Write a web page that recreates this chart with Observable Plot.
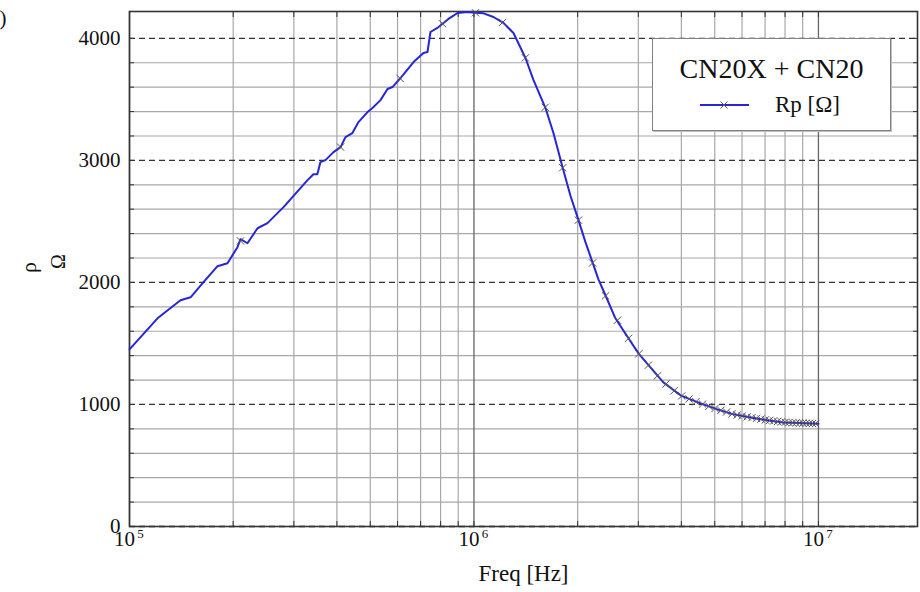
<!DOCTYPE html>
<html><head><meta charset="utf-8">
<script src="https://cdn.jsdelivr.net/npm/d3@7"></script>
<script src="https://cdn.jsdelivr.net/npm/@observablehq/plot@0.6"></script>
<style>
body{margin:0;background:#fff;}
#wrap{position:relative;width:920px;height:592px;overflow:hidden;background:#fff;}
#wrap svg text{font-family:"Liberation Serif","Times New Roman",serif;}
#legend{position:absolute;left:652px;top:38px;width:237px;height:91px;background:#fff;border:1px solid #808080;box-shadow:1px 1px 0 #c0c0c0;font-family:"Liberation Serif",serif;color:#111;}
#lgTitle{position:absolute;left:0;width:237px;top:14px;text-align:center;font-size:28px;line-height:32px;}
#lgItem{position:absolute;left:122px;top:53px;font-size:23px;line-height:26px;}
#lgSym{position:absolute;left:46px;top:58px;}
</style></head>
<body><div id="wrap"></div>
<script>
// Curve: frequency [Hz] and Rp [Ω]
const freq = [1.0e5,1.206e5,1.406e5,1.504e5,1.64e5,1.801e5,1.925e5,2.058e5,2.1e5,2.2e5,2.353e5,2.515e5,2.8e5,3.135e5,3.287e5,3.42e5,3.51e5,3.584e5,3.706e5,3.91e5,4.1e5,4.236e5,4.437e5,4.62e5,4.909e5,5.075e5,5.354e5,5.61e5,5.8e5,6.12e5,6.675e5,7.135e5,7.33e5,7.477e5,7.83e5,8.155e5,8.43e5,8.96e5,9.57e5,1.01e6,1.066e6,1.139e6,1.218e6,1.302e6,1.411e6,1.488e6,1.613e6,1.701e6,1.807e6,1.906e6,2.011e6,2.107e6,2.208e6,2.298e6,2.408e6,2.574e6,2.809e6,3.003e6,3.253e6,3.548e6,3.977e6,4.545e6,5.09e6,5.665e6,6.35e6,7.11e6,7.91e6,8.87e6,1.0e7];
const rp = [1452,1706,1854,1878,2002,2133,2157,2289,2354,2321,2444,2486,2617,2773,2838,2887,2887,2986,3002,3068,3109,3191,3224,3314,3396,3429,3494,3585,3601,3675,3806,3880,3888,4052,4085,4126,4159,4208,4216,4210,4205,4175,4126,4044,3839,3659,3429,3224,2945,2710,2510,2330,2166,2025,1895,1706,1542,1419,1304,1181,1075,1009,960,919,894,870,853,848,842];
// Marker points (x symbols)
const markFreq = [2.1e5,4.1e5,6.1e5,8.1e5,1.01e6,1.21e6,1.41e6,1.61e6,1.81e6,2.01e6,2.21e6,2.41e6,2.61e6,2.81e6,3.01e6,3.21e6,3.41e6,3.61e6,3.81e6,4.01e6,4.21e6,4.41e6,4.61e6,4.81e6,5.01e6,5.21e6,5.41e6,5.61e6,5.81e6,6.01e6,6.21e6,6.41e6,6.61e6,6.81e6,7.01e6,7.21e6,7.41e6,7.61e6,7.81e6,8.01e6,8.21e6,8.41e6,8.61e6,8.81e6,9.01e6,9.21e6,9.41e6,9.61e6,9.81e6];
const markRp = [2340,3109,3672,4120,4210,4130,3840,3435,2940,2510,2160,1890,1690,1542,1415,1322,1235,1168,1112,1070,1045,1022,1003,985,967,952,938,923,914,906,899,892,886,880,873,869,865,861,857,854,852,850,849,848,847,846,845,844,843];
// Ticks
const xMajor = [1e5,1e6,1e7];
const xExp = ["5","6","7"];
const xMinor = [2e5,3e5,4e5,5e5,6e5,7e5,8e5,9e5,2e6,3e6,4e6,5e6,6e6,7e6,8e6,9e6];
const yMajor = [0,1000,2000,3000,4000];
const yMinor = [200,400,600,800,1200,1400,1600,1800,2200,2400,2600,2800,3200,3400,3600,3800];
const xLabel = "Freq [Hz]";
const yLabel1 = "ρ", yLabel2 = "Ω";
const legendTitle = "CN20X + CN20", seriesName = "Rp [Ω]";

const lineData = freq.map((f,i)=>({f, v: rp[i]}));
const markData = markFreq.map((f,i)=>({f, v: markRp[i]}));
const serif = '"Liberation Serif", "Times New Roman", serif';

const chart = Plot.plot({
  width: 920, height: 592,
  marginLeft: 129, marginRight: 3, marginTop: 11, marginBottom: 66,
  x: {type: "log", domain: [1e5, 1.939e7], label: null},
  y: {domain: [0, 4220], label: null},
  style: {fontFamily: serif, fontSize: "21px", color: "#111", background: "white"},
  marks: [
    Plot.gridX(xMinor, {stroke: "#a8a8a8", strokeOpacity: 1, strokeWidth: 1.2}),
    Plot.gridY(yMinor, {stroke: "#a8a8a8", strokeOpacity: 1, strokeWidth: 1.2}),
    Plot.gridX(xMajor, {stroke: "#666", strokeOpacity: 1, strokeWidth: 1.3}),
    Plot.gridY(yMajor, {stroke: "#333", strokeOpacity: 1, strokeWidth: 1.3, strokeDasharray: "6,4"}),
    Plot.axisX([...xMinor, ...xMajor], {anchor: "bottom", tickSize: -5, tickFormat: () => "", stroke: "#333", label: null}),
    Plot.axisX([...xMinor, ...xMajor], {anchor: "top", tickSize: -5, tickFormat: () => "", stroke: "#333", label: null}),
    Plot.axisY([...yMinor, ...yMajor], {anchor: "left", tickSize: -5, tickFormat: () => "", stroke: "#333", label: null}),
    Plot.axisY([...yMinor, ...yMajor], {anchor: "right", tickSize: -5, tickFormat: () => "", stroke: "#333", label: null}),
    Plot.axisY(yMajor, {anchor: "left", tickSize: 0, tickPadding: 9, fontSize: 21, fontFamily: serif, tickFormat: d => String(d), label: null}),
    Plot.frame({stroke: "#333", strokeWidth: 1.6}),
    Plot.line(lineData, {x: "f", y: "v", stroke: "#2626d6", strokeWidth: 2}),
    Plot.dot(markData, {x: "f", y: "v", symbol: "times", r: 3.4, stroke: "#555", strokeWidth: 1}),
    Plot.text(xMajor, {x: d => d, text: () => "10", frameAnchor: "bottom", dy: 19, dx: -5, fontSize: 21, fontFamily: serif}),
    Plot.text(xMajor, {x: d => d, text: (d, i) => xExp[i], frameAnchor: "bottom", dy: 11, dx: 11, fontSize: 13, fontFamily: serif}),
    Plot.text([xLabel], {frameAnchor: "bottom", dy: 54, fontSize: 23, fontFamily: serif}),
    Plot.text([yLabel1], {frameAnchor: "left", dx: -101, dy: 4, rotate: -90, fontSize: 22, fontFamily: serif}),
    Plot.text([yLabel2], {frameAnchor: "left", dx: -71, rotate: -90, fontSize: 20, fontFamily: serif}),
    Plot.text(["(b)"], {frameAnchor: "top-left", dx: -123, dy: -1, textAnchor: "end", fontSize: 21, fontFamily: serif})
  ]
});
const wrap = document.getElementById("wrap");
wrap.appendChild(chart);
d3.select(chart).selectAll("text").style("font-family", serif).attr("fill", "#111");
// make sure the rotated y-axis labels really carry their rotation
d3.select(chart).selectAll("text").each(function() {
  const t = this.textContent;
  if (t === yLabel1 || t === yLabel2) {
    const tr = this.getAttribute("transform") || "";
    if (!/rotate/.test(tr)) this.setAttribute("transform", tr + " rotate(-90)");
  }
});

const lg = document.createElement("div");
lg.id = "legend";
lg.innerHTML = `<div id="lgTitle"></div><svg id="lgSym" width="52" height="16"><line x1="1" y1="8" x2="50" y2="8" stroke="#2626d6" stroke-width="2"/><path d="M21.5,4.5L28.5,11.5M28.5,4.5L21.5,11.5" stroke="#555" stroke-width="1"/></svg><div id="lgItem"></div>`;
wrap.appendChild(lg);
document.getElementById("lgTitle").textContent = legendTitle;
document.getElementById("lgItem").textContent = seriesName;
</script>
</body></html>
